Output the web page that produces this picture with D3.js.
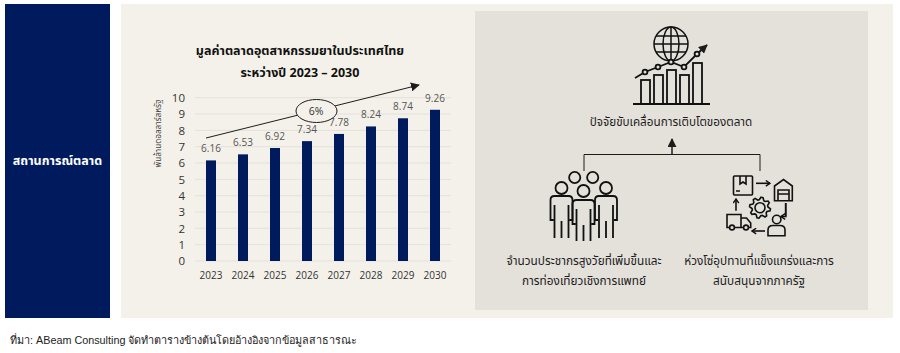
<!DOCTYPE html>
<html>
<head>
<meta charset="utf-8">
<script src="https://cdn.jsdelivr.net/npm/d3@7"></script>
<style>
  html, body { margin: 0; padding: 0; background: #fff; }
  text { font-family: "Open Sans", "Noto Sans", "Noto Sans Thai", sans-serif; }
</style>
</head>
<body>
<div id="chartDiv"></div>
<script>
const years = ["2023", "2024", "2025", "2026", "2027", "2028", "2029", "2030"];
const marketValues = [6.16, 6.53, 6.92, 7.34, 7.78, 8.24, 8.74, 9.26];
const yTicks = [0, 1, 2, 3, 4, 5, 6, 7, 8, 9, 10];
const titleLines = ["มูลค่าตลาดอุตสาหกรรมยาในประเทศไทย", "ระหว่างปี 2023 – 2030"];
const yAxisLabel = "พันล้านดอลลาร์สหรัฐ";
const growthLabel = "6%";
const sideLabel = "สถานการณ์ตลาด";
const driverHeading = "ปัจจัยขับเคลื่อนการเติบโตของตลาด";
const driverLeft = ["จำนวนประชากรสูงวัยที่เพิ่มขึ้นและ", "การท่องเที่ยวเชิงการแพทย์"];
const driverRight = ["ห่วงโซ่อุปทานที่แข็งแกร่งและการ", "สนับสนุนจากภาครัฐ"];
const sourceNote = "ที่มา: ABeam Consulting จัดทำตารางข้างต้นโดยอ้างอิงจากข้อมูลสาธารณะ";

const navy = "#001a5e", ink = "#1c1c1c";

const svg = d3.select("#chartDiv").append("svg")
    .attr("width", 900)
    .attr("height", 353)
    .style("display", "block");

// arrow heads
const defs = svg.append("defs");
defs.append("marker")
    .attr("id", "head")
    .attr("viewBox", "0 0 10 10")
    .attr("refX", 9).attr("refY", 5)
    .attr("markerWidth", 9).attr("markerHeight", 9)
    .attr("markerUnits", "userSpaceOnUse")
    .attr("orient", "auto")
  .append("path")
    .attr("d", "M0,0L10,5L0,10Z")
    .attr("fill", ink);
defs.append("marker")
    .attr("id", "chevron")
    .attr("viewBox", "0 0 10 10")
    .attr("refX", 9).attr("refY", 5)
    .attr("markerWidth", 7).attr("markerHeight", 7)
    .attr("markerUnits", "userSpaceOnUse")
    .attr("orient", "auto")
  .append("path")
    .attr("d", "M3,1L9,5L3,9")
    .attr("fill", "none")
    .attr("stroke", "#111")
    .attr("stroke-width", 2);

// background panels
svg.append("rect").attr("x", 5).attr("y", 4).attr("width", 105).attr("height", 314).attr("fill", navy);
svg.append("rect").attr("x", 121).attr("y", 4).attr("width", 772).attr("height", 314).attr("fill", "#f4f1ea");
svg.append("rect").attr("x", 475).attr("y", 11).attr("width", 393).attr("height", 299).attr("fill", "#e4e1da");

svg.append("text")
    .attr("x", 57.5).attr("y", 165)
    .attr("text-anchor", "middle")
    .attr("fill", "#fff")
    .attr("font-size", 12.5)
    .attr("font-weight", 700)
    .text(sideLabel);

// title
svg.append("g").selectAll("text")
  .data(titleLines)
  .enter().append("text")
    .attr("x", 300)
    .attr("y", (d, i) => 55 + i * 22)
    .attr("text-anchor", "middle")
    .attr("fill", "#111")
    .attr("font-size", 12.5)
    .attr("font-weight", 700)
    .text(d => d);

// scales
const xScale = d3.scaleBand().domain(years).range([195, 451]);
const yScale = d3.scaleLinear().domain([0, 10]).range([261, 97.7]);
const barWidth = 10;

// grid
svg.append("g").selectAll("line")
  .data(yTicks)
  .enter().append("line")
    .attr("x1", 195).attr("x2", 451)
    .attr("y1", d => yScale(d)).attr("y2", d => yScale(d))
    .attr("stroke", "#e4e1dc")
    .attr("stroke-width", 1);

// axes
const yAxis = svg.append("g")
    .attr("transform", "translate(195,0)")
    .call(d3.axisLeft(yScale).tickValues(yTicks).tickSize(0).tickPadding(10).tickFormat(d3.format("d")));
yAxis.select(".domain").remove();
yAxis.selectAll("text").attr("font-size", 11.5).attr("fill", "#333").style("font-family", "'Open Sans'");

const xAxis = svg.append("g")
    .attr("transform", "translate(0,261)")
    .call(d3.axisBottom(xScale).tickSize(0).tickPadding(11));
xAxis.select(".domain").remove();
xAxis.selectAll("text").attr("font-size", 10).attr("fill", "#333").style("font-family", "'Open Sans'");

svg.append("text")
    .attr("transform", "translate(161,133.5) rotate(-90)")
    .attr("text-anchor", "middle")
    .attr("fill", "#444")
    .attr("font-size", 8.2)
    .text(yAxisLabel);

// bars
svg.append("g").selectAll("rect")
  .data(marketValues)
  .enter().append("rect")
    .attr("x", (d, i) => xScale(years[i]) + xScale.bandwidth() / 2 - barWidth / 2)
    .attr("y", d => yScale(d))
    .attr("width", barWidth)
    .attr("height", d => yScale(0) - yScale(d))
    .attr("fill", navy);

// value labels
svg.append("g").selectAll("text")
  .data(marketValues)
  .enter().append("text")
    .attr("x", (d, i) => xScale(years[i]) + xScale.bandwidth() / 2)
    .attr("y", d => yScale(d) - 8)
    .attr("text-anchor", "middle")
    .attr("fill", "#555")
    .attr("font-size", 10)
    .text(d3.format(".2f"));

// growth arrow and bubble
svg.append("line")
    .attr("x1", 206).attr("y1", 138)
    .attr("x2", 419).attr("y2", 85)
    .attr("stroke", ink)
    .attr("stroke-width", 1)
    .attr("marker-end", "url(#head)");
svg.append("ellipse")
    .attr("cx", 316.5).attr("cy", 111)
    .attr("rx", 20.5).attr("ry", 11.5)
    .attr("fill", "#f4f1ea")
    .attr("stroke", ink)
    .attr("stroke-width", 1);
svg.append("text")
    .attr("x", 316).attr("y", 115)
    .attr("text-anchor", "middle")
    .attr("fill", "#333")
    .attr("font-size", 10.5)
    .text(growthLabel);

// driver texts
svg.append("text")
    .attr("x", 671).attr("y", 126)
    .attr("text-anchor", "middle")
    .attr("fill", ink)
    .attr("font-size", 11.7)
    .text(driverHeading);

[[driverLeft, 584], [driverRight, 759]].forEach(([lines, cx]) => {
  svg.append("g").selectAll("text")
    .data(lines)
    .enter().append("text")
      .attr("x", cx)
      .attr("y", (d, i) => 265 + i * 20)
      .attr("text-anchor", "middle")
      .attr("fill", ink)
      .attr("font-size", 11.8)
      .text(d => d);
});

// connector tree
svg.append("path")
    .attr("d", "M584,171V154.5H760V171")
    .attr("fill", "none")
    .attr("stroke", ink)
    .attr("stroke-width", 1);
svg.append("line")
    .attr("x1", 672).attr("y1", 154.5)
    .attr("x2", 672).attr("y2", 139)
    .attr("stroke", ink)
    .attr("stroke-width", 1.5)
    .attr("marker-end", "url(#head)");

// icons
const icons = svg.append("g")
    .attr("fill", "none")
    .attr("stroke", "#111")
    .attr("stroke-width", 1.5);

// globe + rising bars
const globe = icons.append("g").attr("transform", "translate(671,44)");
globe.append("circle").attr("r", 17);
globe.append("ellipse").attr("rx", 8).attr("ry", 17);
globe.append("path").attr("d", "M0,-17V17M-17,0H17M-15,-8H15M-15,8H15");

const chartIcon = icons.append("g").attr("stroke-width", 1.8);
chartIcon.append("line").attr("x1", 633).attr("x2", 710).attr("y1", 104).attr("y2", 104).attr("stroke-width", 2.2);
chartIcon.selectAll("rect")
  .data([[641, 80], [654, 75], [667, 70], [680, 75], [693, 63]])
  .enter().append("rect")
    .attr("x", d => d[0]).attr("y", d => d[1])
    .attr("width", 9).attr("height", d => 104 - d[1]);
chartIcon.append("path")
    .attr("d", "M635,78L645,72L658,67L671,62L684,67L697,54L707,45")
    .attr("marker-end", "url(#head)");
chartIcon.selectAll("circle")
  .data([[645, 72], [658, 67], [671, 62], [684, 67], [697, 54]])
  .enter().append("circle")
    .attr("cx", d => d[0]).attr("cy", d => d[1])
    .attr("r", 2.4)
    .attr("fill", "#e4e1da");

// group of people
const person = (g, cx, headY, bodyY, legY) => {
  g.append("circle").attr("cx", cx).attr("cy", headY).attr("r", 6);
  g.append("path").attr("d",
    `M${cx - 8},${bodyY + 24}H${cx - 11}V${bodyY + 4}Q${cx - 11},${bodyY} ${cx - 7},${bodyY}` +
    `H${cx + 7}Q${cx + 11},${bodyY} ${cx + 11},${bodyY + 4}V${bodyY + 24}H${cx + 8}` +
    `M${cx - 7},${bodyY + 9}V${legY}M${cx + 7},${bodyY + 9}V${legY}M${cx},${bodyY + 25}V${legY}`);
};
const people = icons.append("g").attr("stroke-width", 1.8);
people.append("circle").attr("cx", 574.7).attr("cy", 177.5).attr("r", 5.6);
people.append("circle").attr("cx", 592.7).attr("cy", 177.5).attr("r", 5.6);
person(people, 561.5, 188, 196, 238);
person(people, 606, 188, 196, 238);
person(people, 583.5, 191, 200, 241);

// supply chain
const chain = icons.append("g").attr("stroke-width", 1.6);
chain.append("rect").attr("x", 733.5).attr("y", 176).attr("width", 19).attr("height", 19).attr("rx", 1);
chain.append("path").attr("d", "M740,176V184L743,182L746,184V176M736,191H740");
chain.append("path").attr("d", "M756,183.3H770").attr("marker-end", "url(#chevron)");
chain.append("path").attr("d", "M774.5,200.7V186L783.5,179.5L792.3,186V200.7ZM778,200.7V190H789V200.7M778,194H789");
chain.append("path").attr("d", "M785.7,203V216.5H781").attr("marker-end", "url(#chevron)");
chain.append("path").attr("d", "M785.7,203V216.5");
const gearRadii = [10.5, 10.5, 8, 8];
const gearPoints = d3.range(32).map(i => [i * Math.PI / 16 + Math.PI / 32, gearRadii[i % 4]]);
chain.append("path")
    .attr("transform", "translate(760,207.7)")
    .attr("d", d3.lineRadial().curve(d3.curveLinearClosed)(gearPoints));
chain.append("circle").attr("cx", 760).attr("cy", 207.7).attr("r", 5);
chain.append("circle").attr("cx", 776.7).attr("cy", 219.5).attr("r", 4.2);
chain.append("path").attr("d", "M768,235.7V230Q768,225.5 773,225.5H780Q785,225.5 785,230V235.7Z");
chain.append("path").attr("d", "M765,231H752").attr("marker-end", "url(#chevron)");
chain.append("path").attr("d", "M729.5,227.5H727V214.5H741V227.5H734.5M741,218H746.5L750.7,223V227.5H748.8M741,227.5H743.5");
chain.append("circle").attr("cx", 732).attr("cy", 227.5).attr("r", 2.4);
chain.append("circle").attr("cx", 746).attr("cy", 227.5).attr("r", 2.4);
chain.append("path").attr("d", "M736,210.7V199").attr("marker-end", "url(#chevron)");

// source note
svg.append("text")
    .attr("x", 10).attr("y", 344)
    .attr("fill", "#222")
    .attr("font-size", 10.8)
    .style("font-family", "'Liberation Sans', Arial, sans-serif")
    .text(sourceNote);
</script>
</body>
</html>
